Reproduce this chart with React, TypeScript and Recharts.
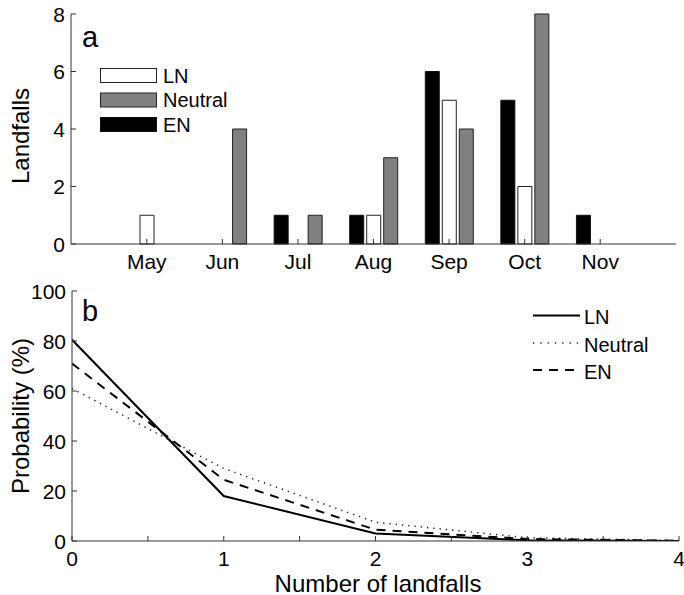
import React from 'react';
import { BarChart, Bar, LineChart, Line, XAxis, YAxis } from 'recharts';

// ---- Panel a data ----
const months = ['May', 'Jun', 'Jul', 'Aug', 'Sep', 'Oct', 'Nov'];
const enCounts = [0, 0, 1, 1, 6, 5, 1];
const lnCounts = [1, 0, 0, 1, 5, 2, 0];
const neutralCounts = [0, 4, 1, 3, 4, 8, 0];
const landfallTicks = [0, 2, 4, 6, 8];

// ---- Panel b data ----
const numLandfalls = [0, 1, 2, 3, 4];
const lnProb = [80.5, 18, 3, 0.3, 0];
const neutralProb = [61, 29, 7.5, 1.3, 0.2];
const enProb = [71, 24.5, 4.5, 0.8, 0.1];
const probTicks = [0, 20, 40, 60, 80, 100];
const numTicks = [0, 0.5, 1, 1.5, 2, 2.5, 3, 3.5, 4];

const barData = months.map((m, i) => ({
  month: m,
  EN: enCounts[i],
  LN: lnCounts[i],
  Neutral: neutralCounts[i],
}));

const lineData = numLandfalls.map((n, i) => ({
  n,
  LN: lnProb[i],
  Neutral: neutralProb[i],
  EN: enProb[i],
}));

const FONT = '"Liberation Sans", Arial, Helvetica, sans-serif';
const AX = '#333';
const TL = 5;

const BottomTick = (props: any) => {
  const { x, y, payload } = props;
  const v = payload.value;
  const show = typeof v === 'number' ? Number.isInteger(v) : true;
  return (
    <g>
      <line x1={x} y1={y} x2={x} y2={y - TL} stroke={AX} strokeWidth={1} />
      {show && (
        <text x={x} y={y + 25} textAnchor="middle" fontFamily={FONT} fontSize={21} fill="#000">
          {v}
        </text>
      )}
    </g>
  );
};

const TopTick = (props: any) => {
  const { x, y } = props;
  return <line x1={x} y1={y} x2={x} y2={y + TL} stroke={AX} strokeWidth={1} />;
};

const LeftTick = (props: any) => {
  const { x, y, payload } = props;
  return (
    <g>
      <line x1={x} y1={y} x2={x + TL} y2={y} stroke={AX} strokeWidth={1} />
      <text x={x - 6} y={y + 7.5} textAnchor="end" fontFamily={FONT} fontSize={21} fill="#000">
        {payload.value}
      </text>
    </g>
  );
};

const RightTick = (props: any) => {
  const { x, y } = props;
  return <line x1={x} y1={y} x2={x - TL} y2={y} stroke={AX} strokeWidth={1} />;
};

export default function App() {
  return (
    <div style={{ position: 'absolute', left: 0, top: 0, width: 684, height: 595, background: '#fff' }}>
      <div style={{ position: 'absolute', left: 0, top: 0 }}>
        <BarChart
          width={684}
          height={290}
          data={barData}
          margin={{ top: 14, right: 8, bottom: 20, left: 0 }}
          barSize={14}
          barGap={3}
        >
          <XAxis
            dataKey="month"
            height={26}
            padding={{ left: 38, right: 38 }}
            tickSize={0}
            tickMargin={0}
            interval={0}
            axisLine={{ stroke: AX, strokeWidth: 1 }}
            tickLine={false}
            tick={BottomTick}
          />
          <XAxis
            xAxisId="top"
            dataKey="month"
            orientation="top"
            height={0}
            padding={{ left: 38, right: 38 }}
            tickSize={0}
            tickMargin={0}
            interval={0}
            axisLine={{ stroke: AX, strokeWidth: 1 }}
            tickLine={false}
            tick={TopTick}
          />
          <YAxis
            width={71}
            domain={[0, 8]}
            ticks={landfallTicks}
            interval={0}
            tickSize={0}
            tickMargin={0}
            axisLine={{ stroke: AX, strokeWidth: 1 }}
            tickLine={false}
            tick={LeftTick}
          />
          <YAxis
            yAxisId="right"
            orientation="right"
            width={0}
            domain={[0, 8]}
            ticks={landfallTicks}
            interval={0}
            tickSize={0}
            tickMargin={0}
            axisLine={{ stroke: AX, strokeWidth: 1 }}
            tickLine={false}
            tick={RightTick}
          />
          <Bar dataKey="EN" fill="#000" stroke="#111" strokeWidth={1} isAnimationActive={false} />
          <Bar dataKey="LN" fill="#fff" stroke="#222" strokeWidth={1} isAnimationActive={false} />
          <Bar dataKey="Neutral" fill="#808080" stroke="#222" strokeWidth={1} isAnimationActive={false} />
        </BarChart>
      </div>
      <div style={{ position: 'absolute', left: 0, top: 270 }}>
        <LineChart
          width={684}
          height={325}
          data={lineData}
          margin={{ top: 21, right: 5, bottom: 0, left: 0 }}
        >
          <XAxis
            dataKey="n"
            type="number"
            domain={[0, 4]}
            ticks={numTicks}
            interval={0}
            allowDataOverflow
            height={54}
            tickSize={0}
            tickMargin={0}
            axisLine={{ stroke: AX, strokeWidth: 1 }}
            tickLine={false}
            tick={BottomTick}
          />
          <XAxis
            xAxisId="top"
            dataKey="n"
            type="number"
            orientation="top"
            domain={[0, 4]}
            ticks={numTicks}
            interval={0}
            allowDataOverflow
            height={0}
            tickSize={0}
            tickMargin={0}
            axisLine={{ stroke: AX, strokeWidth: 1 }}
            tickLine={false}
            tick={TopTick}
          />
          <YAxis
            width={72}
            domain={[0, 100]}
            ticks={probTicks}
            interval={0}
            allowDataOverflow
            tickSize={0}
            tickMargin={0}
            axisLine={{ stroke: AX, strokeWidth: 1 }}
            tickLine={false}
            tick={LeftTick}
          />
          <YAxis
            yAxisId="right"
            orientation="right"
            width={0}
            domain={[0, 100]}
            ticks={probTicks}
            interval={0}
            allowDataOverflow
            tickSize={0}
            tickMargin={0}
            axisLine={{ stroke: AX, strokeWidth: 1 }}
            tickLine={false}
            tick={RightTick}
          />
          <Line type="linear" dataKey="Neutral" stroke="#222" strokeWidth={1.5} strokeDasharray="1.3 5" dot={false} isAnimationActive={false} />
          <Line type="linear" dataKey="EN" stroke="#000" strokeWidth={2} strokeDasharray="9 7" dot={false} isAnimationActive={false} />
          <Line type="linear" dataKey="LN" stroke="#000" strokeWidth={2} dot={false} isAnimationActive={false} />
        </LineChart>
      </div>
      <svg
        width={684}
        height={595}
        style={{ position: 'absolute', left: 0, top: 0, pointerEvents: 'none' }}
        fontFamily={FONT}
      >
        {/* panel letters */}
        <text x={82} y={47} fontSize={29} fill="#000">a</text>
        <text x={82} y={321} fontSize={29} fill="#000">b</text>
        {/* axis titles */}
        <text x={28.5} y={136} fontSize={24} textAnchor="middle" transform="rotate(-90 28.5 136)" fill="#000">
          Landfalls
        </text>
        <text x={29} y={416} fontSize={24} textAnchor="middle" transform="rotate(-90 29 416)" fill="#000">
          Probability (%)
        </text>
        <text x={378} y={591.5} fontSize={24} textAnchor="middle" fill="#000">
          Number of landfalls
        </text>
        {/* legend a */}
        <rect x={100.5} y={68.5} width={56} height={14} fill="#fff" stroke="#222" strokeWidth={1} />
        <text x={163} y={82.5} fontSize={20} fill="#000">LN</text>
        <rect x={100.5} y={93} width={56} height={14} fill="#808080" stroke="#222" strokeWidth={1} />
        <text x={163} y={107} fontSize={20} fill="#000">Neutral</text>
        <rect x={100.5} y={117.5} width={56} height={14} fill="#000" stroke="#111" strokeWidth={1} />
        <text x={163} y={131.5} fontSize={20} fill="#000">EN</text>
        {/* legend b */}
        <line x1={533} y1={315.5} x2={580} y2={315.5} stroke="#000" strokeWidth={2} />
        <text x={584} y={324} fontSize={20} fill="#000">LN</text>
        <line x1={533} y1={343} x2={580} y2={343} stroke="#222" strokeWidth={1.5} strokeDasharray="1.3 6" />
        <text x={584} y={351.5} fontSize={20} fill="#000">Neutral</text>
        <line x1={533} y1={370} x2={580} y2={370} stroke="#000" strokeWidth={2} strokeDasharray="9 7" />
        <text x={584} y={379} fontSize={20} fill="#000">EN</text>
      </svg>
    </div>
  );
}
